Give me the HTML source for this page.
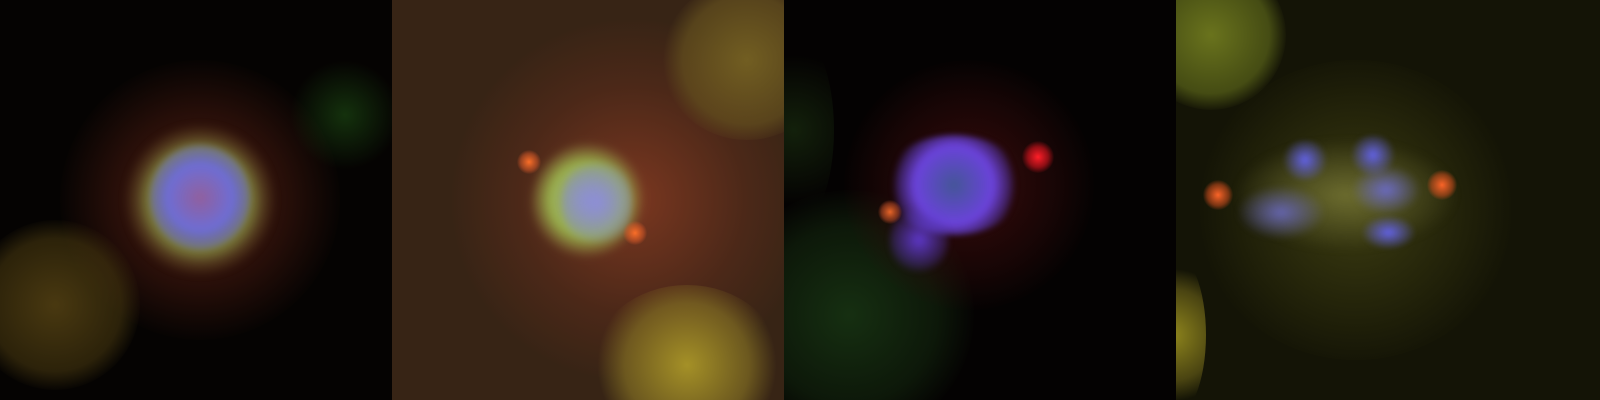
<!DOCTYPE html>
<html><head><meta charset="utf-8"><style>
html,body{margin:0;padding:0;background:#000;width:1600px;height:400px;overflow:hidden;}
#root{position:relative;width:1600px;height:400px;overflow:hidden;background:#000;}
.panel{position:absolute;top:0;height:400px;overflow:hidden;}
.b{position:absolute;border-radius:50%;}
</style></head><body>
<div id="root">

<div class="panel" style="left:0;width:392px;background:#050302;">
  <div class="b" style="left:60px;top:60px;width:280px;height:280px;background:radial-gradient(circle,rgba(110,40,25,.75) 0%,rgba(70,25,15,.5) 45%,rgba(0,0,0,0) 72%);"></div>
  <div class="b" style="left:-30px;top:220px;width:170px;height:170px;background:radial-gradient(circle,rgba(90,70,20,.8) 0%,rgba(70,55,15,.6) 55%,rgba(0,0,0,0) 72%);"></div>
  <div class="b" style="left:290px;top:60px;width:110px;height:110px;background:radial-gradient(circle,rgba(30,80,20,.6) 0%,rgba(0,0,0,0) 70%);"></div>
  <div class="b" style="left:125px;top:125px;width:150px;height:150px;background:radial-gradient(circle,rgba(150,150,150,.2) 0%,rgba(140,150,70,.8) 48%,rgba(110,90,45,.5) 60%,rgba(0,0,0,0) 72%);filter:blur(4px);"></div>
  <div class="b" style="left:150px;top:145px;width:100px;height:105px;background:radial-gradient(circle,rgba(150,100,170,.9) 0%,rgba(110,110,220,.95) 45%,rgba(110,120,210,.4) 70%,rgba(0,0,0,0) 75%);filter:blur(3px);"></div>
</div>

<div class="panel" style="left:392px;width:392px;background:#372415;">
  <div class="b" style="left:60px;top:20px;width:360px;height:360px;background:radial-gradient(circle,rgba(140,60,35,.8) 0%,rgba(100,45,28,.45) 45%,rgba(0,0,0,0) 72%);"></div>
  <div class="b" style="left:270px;top:-20px;width:170px;height:160px;background:radial-gradient(circle,rgba(120,100,35,.9) 0%,rgba(100,80,30,.7) 55%,rgba(0,0,0,0) 72%);"></div>
  <div class="b" style="left:200px;top:285px;width:190px;height:160px;background:radial-gradient(circle,rgba(170,150,40,.95) 0%,rgba(130,110,35,.7) 50%,rgba(0,0,0,0) 72%);"></div>
  <div class="b" style="left:140px;top:140px;width:110px;height:120px;background:radial-gradient(circle,rgba(150,160,190,.95) 0%,rgba(160,190,80,.9) 45%,rgba(140,120,60,.4) 65%,rgba(0,0,0,0) 72%);filter:blur(4px);transform:rotate(30deg);"></div>
  <div class="b" style="left:170px;top:155px;width:70px;height:95px;background:radial-gradient(circle,rgba(140,140,220,.9) 0%,rgba(130,140,210,.4) 55%,rgba(0,0,0,0) 72%);filter:blur(3px);"></div>
  <div class="b" style="left:125px;top:150px;width:24px;height:24px;background:radial-gradient(circle,rgba(250,110,40,1) 0%,rgba(220,90,40,.5) 50%,rgba(0,0,0,0) 72%);"></div>
  <div class="b" style="left:231px;top:221px;width:24px;height:24px;background:radial-gradient(circle,rgba(250,110,40,1) 0%,rgba(220,90,40,.5) 50%,rgba(0,0,0,0) 72%);"></div>
</div>

<div class="panel" style="left:784px;width:392px;background:#040202;">
  <div class="b" style="left:-60px;top:190px;width:250px;height:250px;background:radial-gradient(circle,rgba(25,55,20,.85) 0%,rgba(20,42,15,.55) 50%,rgba(0,0,0,0) 72%);"></div>
  <div class="b" style="left:-30px;top:30px;width:80px;height:200px;background:radial-gradient(circle,rgba(25,45,15,.7) 0%,rgba(0,0,0,0) 70%);"></div>
  <div class="b" style="left:60px;top:60px;width:250px;height:250px;background:radial-gradient(circle,rgba(80,15,15,.7) 0%,rgba(50,10,10,.4) 50%,rgba(0,0,0,0) 72%);"></div>
  <div class="b" style="left:100px;top:135px;width:140px;height:100px;background:radial-gradient(circle,rgba(70,90,160,.95) 0%,rgba(110,70,230,.95) 45%,rgba(90,60,200,.4) 65%,rgba(0,0,0,0) 72%);filter:blur(3px);"></div>
  <div class="b" style="left:105px;top:205px;width:60px;height:70px;background:radial-gradient(circle,rgba(100,60,220,.9) 0%,rgba(90,60,200,.3) 55%,rgba(0,0,0,0) 72%);filter:blur(3px);"></div>
  <div class="b" style="left:238px;top:141px;width:32px;height:32px;background:radial-gradient(circle,rgba(255,30,40,1) 0%,rgba(220,20,30,.6) 45%,rgba(0,0,0,0) 72%);"></div>
  <div class="b" style="left:94px;top:200px;width:24px;height:24px;background:radial-gradient(circle,rgba(230,100,40,1) 0%,rgba(200,80,40,.5) 50%,rgba(0,0,0,0) 72%);"></div>
</div>

<div class="panel" style="left:1176px;width:424px;background:#141406;">
  <div class="b" style="left:20px;top:60px;width:320px;height:300px;background:radial-gradient(circle,rgba(70,70,20,.8) 0%,rgba(45,45,12,.5) 50%,rgba(0,0,0,0) 72%);"></div>
  <div class="b" style="left:-40px;top:-40px;width:150px;height:150px;background:radial-gradient(circle,rgba(110,120,30,.95) 0%,rgba(90,100,25,.7) 55%,rgba(0,0,0,0) 72%);"></div>
  <div class="b" style="left:-40px;top:250px;width:70px;height:170px;background:radial-gradient(circle,rgba(150,140,30,.95) 0%,rgba(110,100,25,.6) 50%,rgba(0,0,0,0) 72%);"></div>
  <div class="b" style="left:60px;top:140px;width:220px;height:110px;background:radial-gradient(ellipse,rgba(130,130,60,.7) 0%,rgba(90,90,40,.4) 50%,rgba(0,0,0,0) 72%);filter:blur(4px);"></div>
  <div class="b" style="left:104px;top:140px;width:50px;height:40px;background:radial-gradient(circle,rgba(100,100,240,.95) 0%,rgba(0,0,0,0) 70%);filter:blur(2px);"></div>
  <div class="b" style="left:60px;top:185px;width:90px;height:55px;background:radial-gradient(ellipse,rgba(110,110,210,.8) 0%,rgba(0,0,0,0) 70%);filter:blur(3px);"></div>
  <div class="b" style="left:172px;top:135px;width:50px;height:40px;background:radial-gradient(circle,rgba(100,100,240,.95) 0%,rgba(0,0,0,0) 70%);filter:blur(2px);"></div>
  <div class="b" style="left:175px;top:165px;width:70px;height:50px;background:radial-gradient(ellipse,rgba(110,110,220,.85) 0%,rgba(0,0,0,0) 70%);filter:blur(3px);"></div>
  <div class="b" style="left:185px;top:215px;width:55px;height:35px;background:radial-gradient(ellipse,rgba(100,100,240,.95) 0%,rgba(0,0,0,0) 70%);filter:blur(2px);"></div>
  <div class="b" style="left:27px;top:180px;width:30px;height:30px;background:radial-gradient(circle,rgba(250,100,40,1) 0%,rgba(220,80,30,.5) 50%,rgba(0,0,0,0) 72%);"></div>
  <div class="b" style="left:251px;top:170px;width:30px;height:30px;background:radial-gradient(circle,rgba(250,100,40,1) 0%,rgba(220,80,30,.5) 50%,rgba(0,0,0,0) 72%);"></div>
</div>

</div>
</body></html>
